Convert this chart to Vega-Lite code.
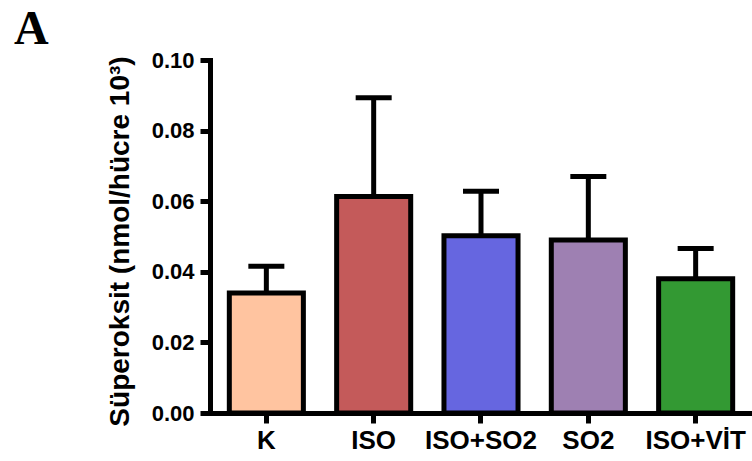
{
  "$schema": "https://vega.github.io/schema/vega-lite/v6.json",
  "width": 542,
  "height": 353,
  "autosize": {"type": "none"},
  "padding": {"left": 210, "top": 60, "right": 0, "bottom": 48},
  "background": "white",
  "title": {
    "text": "A",
    "anchor": "start",
    "frame": "group",
    "dx": -196,
    "dy": 9,
    "font": "Liberation Serif",
    "fontSize": 48,
    "fontWeight": "bold",
    "color": "black"
  },
  "data": {
    "values": [
      {"group": "K", "mean": 0.034, "upper": 0.0416, "color": "#FFC4A0"},
      {"group": "ISO", "mean": 0.0613, "upper": 0.0893, "color": "#C45A5A"},
      {"group": "ISO+SO2", "mean": 0.0502, "upper": 0.0628, "color": "#6666E0"},
      {"group": "SO2", "mean": 0.049, "upper": 0.067, "color": "#9E80B2"},
      {"group": "ISO+VİT", "mean": 0.038, "upper": 0.0466, "color": "#339933"}
    ]
  },
  "encoding": {
    "x": {
      "field": "group",
      "type": "nominal",
      "sort": null,
      "scale": {"paddingInner": 0.31, "paddingOuter": 0.18},
      "axis": {
        "title": null,
        "labelAngle": 0,
        "labelFont": "Liberation Sans",
        "labelFontWeight": "bold",
        "labelFontSize": 26,
        "labelColor": "black",
        "labelPadding": 4,
        "tickSize": 10,
        "tickWidth": 5,
        "tickColor": "black",
        "domainWidth": 5,
        "domainColor": "black",
        "domainCap": "square"
      }
    }
  },
  "layer": [
    {
      "mark": {"type": "rule", "strokeWidth": 5, "color": "black"},
      "encoding": {
        "y": {"field": "mean", "type": "quantitative"},
        "y2": {"field": "upper"}
      }
    },
    {
      "mark": {"type": "tick", "size": 36, "thickness": 5, "color": "black", "opacity": 1},
      "encoding": {
        "y": {"field": "upper", "type": "quantitative"}
      }
    },
    {
      "mark": {"type": "bar", "stroke": "black", "strokeWidth": 5, "strokeJoin": "miter"},
      "encoding": {
        "y": {
          "field": "mean",
          "type": "quantitative",
          "scale": {"domain": [0, 0.1], "nice": false},
          "axis": {
            "values": [0, 0.02, 0.04, 0.06, 0.08, 0.1],
            "format": ".2f",
            "title": "Süperoksit (nmol/hücre 10³)",
            "titleFont": "Liberation Sans",
            "titleFontWeight": "bold",
            "titleFontSize": 28,
            "titleColor": "black",
            "titleX": -82,
            "titleY": 181,
            "titleAngle": -90,
            "titleAlign": "center",
            "titleBaseline": "alphabetic",
            "labelFont": "Liberation Sans",
            "labelFontWeight": "bold",
            "labelFontSize": 22,
            "labelColor": "black",
            "labelPadding": 6,
            "tickSize": 10,
            "tickWidth": 5,
            "tickColor": "black",
            "domainWidth": 5,
            "domainColor": "black",
            "domainCap": "square",
            "grid": false
          }
        },
        "fill": {"field": "color", "type": "nominal", "scale": null, "legend": null}
      }
    }
  ],
  "config": {
    "view": {"stroke": null}
  }
}
